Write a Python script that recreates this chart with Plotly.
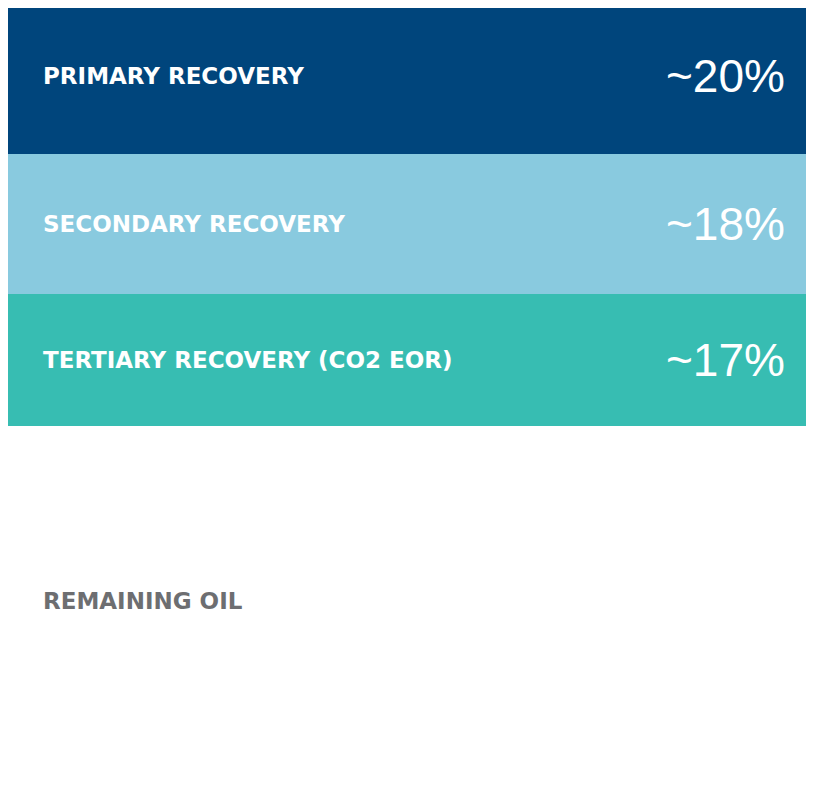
import plotly.graph_objects as go

stages = ["PRIMARY RECOVERY", "SECONDARY RECOVERY", "TERTIARY RECOVERY (CO2 EOR)", "REMAINING OIL"]
shares = [20, 18, 17, 45]
value_labels = ["~20%", "~18%", "~17%", ""]
colors = ["#00457C", "#89CADF", "#37BDB2", "#FFFFFF"]
label_colors = ["#FFFFFF", "#FFFFFF", "#FFFFFF", "#6D6E71"]

fig = go.Figure()
for s, v, c in zip(stages, shares, colors):
    fig.add_trace(go.Bar(x=[0], y=[v], name=s, marker=dict(color=c, line=dict(width=0)),
                         width=1, hoverinfo="skip"))

cum = 0
for s, v, vl, lc in zip(stages, shares, value_labels, label_colors):
    mid = cum + v / 2
    fig.add_annotation(x=0.04, xref="paper", y=mid, yref="y", text="<b>" + s + "</b>",
                       showarrow=False, xanchor="left",
                       font=dict(family="DejaVu Sans", size=23, color=lc))
    if vl:
        fig.add_annotation(x=0.957, xref="paper", y=mid, yref="y", text=vl,
                           showarrow=False, xanchor="right",
                           font=dict(family="Liberation Sans, Arial", size=46, color="#FFFFFF"))
    cum += v

fig.update_layout(barmode="stack", width=814, height=798, margin=dict(l=0, r=0, t=0, b=0),
                  showlegend=False, plot_bgcolor="white", paper_bgcolor="white", bargap=0)
fig.update_xaxes(visible=False, range=[-0.5, 0.5])
fig.update_yaxes(visible=False, range=[103.9, 1.2])
fig.write_html("out.html")
